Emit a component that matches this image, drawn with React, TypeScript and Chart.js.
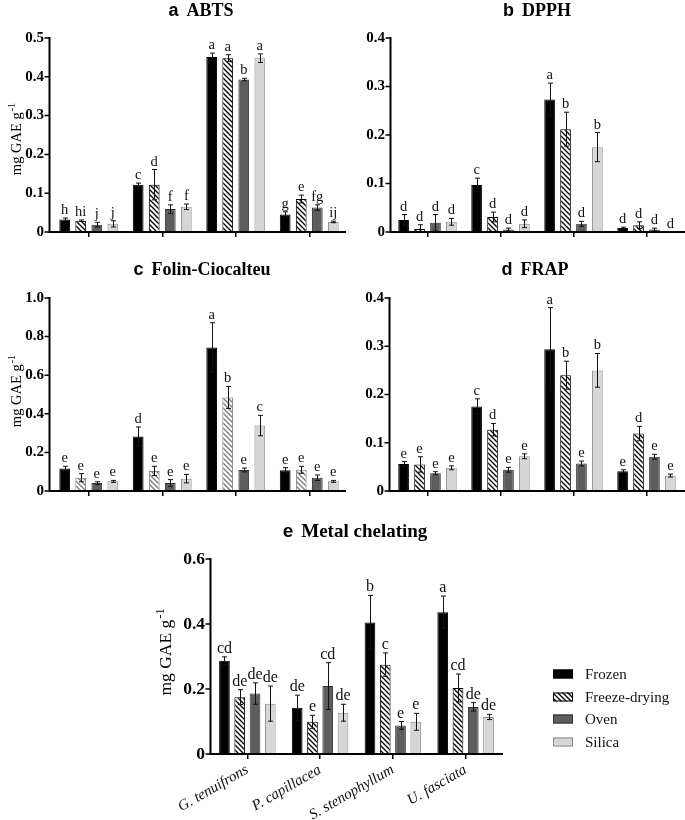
import React, { useEffect, useRef } from 'react';
import { Chart, registerables } from 'chart.js';

Chart.register(...registerables);

// ---------- data ----------
const species = ['G. tenuifrons', 'P. capillacea', 'S. stenophyllum', 'U. fasciata'];
const methods = ['Frozen', 'Freeze-drying', 'Oven', 'Silica'];

// rows: Frozen, Freeze-drying, Oven, Silica ; columns: species
const abtsMeans = [
  [0.032, 0.122, 0.451, 0.045],
  [0.029, 0.122, 0.448, 0.085],
  [0.019, 0.059, 0.393, 0.063],
  [0.021, 0.065, 0.448, 0.026],
];
const abtsErrors = [
  [0.004, 0.004, 0.010, 0.007],
  [0.002, 0.039, 0.009, 0.010],
  [0.006, 0.011, 0.003, 0.007],
  [0.008, 0.007, 0.011, 0.002],
];
const abtsLetters = [
  ['h', 'c', 'a', 'g'],
  ['hi', 'd', 'a', 'e'],
  ['j', 'f', 'b', 'fg'],
  ['j', 'f', 'a', 'ij'],
];

const dpphMeans = [
  [0.025, 0.097, 0.273, 0.008],
  [0.006, 0.031, 0.212, 0.014],
  [0.019, 0.005, 0.017, 0.005],
  [0.021, 0.017, 0.175, 0.001],
];
const dpphErrors = [
  [0.011, 0.014, 0.034, 0.002],
  [0.009, 0.010, 0.035, 0.007],
  [0.017, 0.003, 0.005, 0.003],
  [0.007, 0.008, 0.030, 0.0],
];
const dpphLetters = [
  ['d', 'c', 'a', 'd'],
  ['d', 'd', 'b', 'd'],
  ['d', 'd', 'd', 'd'],
  ['d', 'd', 'b', 'd'],
];

const folinMeans = [
  [0.116, 0.283, 0.743, 0.107],
  [0.069, 0.104, 0.485, 0.110],
  [0.041, 0.041, 0.109, 0.069],
  [0.050, 0.064, 0.339, 0.050],
];
const folinErrors = [
  [0.012, 0.049, 0.129, 0.014],
  [0.021, 0.024, 0.057, 0.018],
  [0.007, 0.018, 0.010, 0.014],
  [0.005, 0.022, 0.053, 0.005],
];
const folinLetters = [
  ['e', 'd', 'a', 'e'],
  ['e', 'e', 'b', 'e'],
  ['e', 'e', 'e', 'e'],
  ['e', 'e', 'c', 'e'],
];

const frapMeans = [
  [0.056, 0.175, 0.294, 0.041],
  [0.055, 0.127, 0.240, 0.119],
  [0.037, 0.044, 0.057, 0.071],
  [0.048, 0.072, 0.250, 0.032],
];
const frapErrors = [
  [0.005, 0.016, 0.086, 0.003],
  [0.016, 0.013, 0.029, 0.015],
  [0.003, 0.005, 0.005, 0.005],
  [0.004, 0.005, 0.035, 0.003],
];
const frapLetters = [
  ['e', 'c', 'a', 'e'],
  ['e', 'd', 'b', 'd'],
  ['e', 'e', 'e', 'e'],
  ['e', 'e', 'b', 'e'],
];

const metalMeans = [
  [0.287, 0.142, 0.405, 0.436],
  [0.175, 0.099, 0.275, 0.203],
  [0.186, 0.209, 0.088, 0.145],
  [0.155, 0.127, 0.099, 0.114],
];
const metalErrors = [
  [0.012, 0.039, 0.083, 0.050],
  [0.023, 0.020, 0.036, 0.043],
  [0.033, 0.072, 0.012, 0.013],
  [0.054, 0.026, 0.026, 0.008],
];
const metalLetters = [
  ['cd', 'de', 'b', 'a'],
  ['de', 'e', 'c', 'cd'],
  ['de', 'cd', 'e', 'de'],
  ['de', 'de', 'e', 'de'],
];

const yTitleMain = 'mg GAE g';
const yTitleSup = '-1';

// ---------- styles ----------
const SERIF = "'Liberation Serif', 'Times New Roman', serif";
const SANS = "'Liberation Sans', Arial, sans-serif";

function makeHatch(color: string) {
  const s = 5;
  const c = document.createElement('canvas');
  c.width = s;
  c.height = s;
  const g = c.getContext('2d')!;
  g.fillStyle = '#ffffff';
  g.fillRect(0, 0, s, s);
  g.strokeStyle = color;
  g.lineWidth = 1.3;
  g.beginPath();
  g.moveTo(-1, -1);
  g.lineTo(s + 1, s + 1);
  g.moveTo(-1, s - 1);
  g.lineTo(1, s + 1);
  g.moveTo(s - 1, -1);
  g.lineTo(s + 1, 1);
  g.stroke();
  return g.createPattern(c, 'repeat')!;
}

type PanelCfg = {
  letter: string;
  name: string;
  means: number[][];
  errs: number[][];
  letters: string[][];
  yMax: number;
  yStep: number;
  cl: number; ct: number; cw: number; ch: number;
  areaLeft: number; areaRight: number; areaTop: number; areaBottom: number;
  yAxisX: number; xEnd: number; labelRight: number;
  titleX: number; titleBase: number; titleSize: number;
  yTitle: null | { x: number; y: number; size: number };
  tickSize: number; letterSize: number;
  catPct: number; barPct: number;
  hatchColor: string;
  showX: boolean; legend: boolean;
};

const panels: PanelCfg[] = [
  {
    letter: 'a', name: 'ABTS', means: abtsMeans, errs: abtsErrors, letters: abtsLetters,
    yMax: 0.5, yStep: 0.1,
    cl: 0, ct: 0, cw: 347, ch: 250,
    areaLeft: 52, areaRight: 346, areaTop: 38, areaBottom: 232,
    yAxisX: 49.5, xEnd: 346, labelRight: 44,
    titleX: 201, titleBase: 16, titleSize: 18,
    yTitle: { x: 16, y: 139, size: 14.5 },
    tickSize: 15, letterSize: 14.5, catPct: 0.873, barPct: 0.67,
    hatchColor: '#000', showX: false, legend: false,
  },
  {
    letter: 'b', name: 'DPPH', means: dpphMeans, errs: dpphErrors, letters: dpphLetters,
    yMax: 0.4, yStep: 0.1,
    cl: 340, ct: 0, cw: 345, ch: 250,
    areaLeft: 391, areaRight: 683, areaTop: 38, areaBottom: 232,
    yAxisX: 390.5, xEnd: 685, labelRight: 385,
    titleX: 537, titleBase: 16, titleSize: 18,
    yTitle: null,
    tickSize: 15, letterSize: 14.5, catPct: 0.873, barPct: 0.67,
    hatchColor: '#000', showX: false, legend: false,
  },
  {
    letter: 'c', name: 'Folin-Ciocalteu', means: folinMeans, errs: folinErrors, letters: folinLetters,
    yMax: 1.0, yStep: 0.2,
    cl: 0, ct: 250, cw: 347, ch: 260,
    areaLeft: 52, areaRight: 346, areaTop: 298, areaBottom: 491,
    yAxisX: 49.5, xEnd: 346, labelRight: 44,
    titleX: 202, titleBase: 275, titleSize: 18,
    yTitle: { x: 16, y: 391, size: 14.5 },
    tickSize: 15, letterSize: 14.5, catPct: 0.873, barPct: 0.67,
    hatchColor: '#7a7a7a', showX: false, legend: false,
  },
  {
    letter: 'd', name: 'FRAP', means: frapMeans, errs: frapErrors, letters: frapLetters,
    yMax: 0.4, yStep: 0.1,
    cl: 340, ct: 250, cw: 345, ch: 260,
    areaLeft: 391, areaRight: 683, areaTop: 298, areaBottom: 491,
    yAxisX: 389.5, xEnd: 685, labelRight: 384,
    titleX: 535, titleBase: 275, titleSize: 18,
    yTitle: null,
    tickSize: 15, letterSize: 14.5, catPct: 0.873, barPct: 0.67,
    hatchColor: '#000', showX: false, legend: false,
  },
  {
    letter: 'e', name: 'Metal chelating', means: metalMeans, errs: metalErrors, letters: metalLetters,
    yMax: 0.6, yStep: 0.2,
    cl: 0, ct: 510, cw: 685, ch: 310,
    areaLeft: 211, areaRight: 502, areaTop: 559, areaBottom: 754,
    yAxisX: 210.5, xEnd: 503, labelRight: 205,
    titleX: 355, titleBase: 537, titleSize: 19,
    yTitle: { x: 165, y: 652, size: 17.5 },
    tickSize: 17.5, letterSize: 16, catPct: 0.84, barPct: 0.7,
    hatchColor: '#000', showX: true, legend: true,
  },
];

const legendYs = [674, 697, 719, 742];

function Panel({ cfg }: { cfg: PanelCfg }) {
  const ref = useRef<HTMLCanvasElement>(null);

  useEffect(() => {
    const canvas = ref.current!;
    const hatch = makeHatch(cfg.hatchColor);
    const fills: any[] = ['#000000', hatch, '#5d5d5d', '#d6d6d6'];
    const borders = ['#000000', cfg.hatchColor, '#303030', '#8c8c8c'];
    const ox = cfg.cl;
    const oy = cfg.ct;

    const deco = {
      id: 'deco',
      afterDatasetsDraw(chart: any) {
        const ctx: CanvasRenderingContext2D = chart.ctx;
        const { left, right, top, bottom } = chart.chartArea;
        const ys = chart.scales.y;
        ctx.save();

        // error bars + letters
        cfg.means.forEach((row, i) => {
          const meta = chart.getDatasetMeta(i);
          row.forEach((v, j) => {
            const el = meta.data[j];
            if (!el) return;
            const x = Math.round(el.x) + 0.5;
            const e = cfg.errs[i][j];
            const yt = ys.getPixelForValue(v + e);
            const yb = ys.getPixelForValue(Math.max(0, v - e));
            if (e > 0) {
              ctx.strokeStyle = '#111';
              ctx.lineWidth = 1;
              ctx.beginPath();
              ctx.moveTo(x, yt);
              ctx.lineTo(x, yb);
              ctx.moveTo(x - 2.5, yt);
              ctx.lineTo(x + 2.5, yt);
              ctx.moveTo(x - 2.5, yb);
              ctx.lineTo(x + 2.5, yb);
              ctx.stroke();
            }
            ctx.fillStyle = '#111';
            ctx.font = `${cfg.letterSize}px ${SERIF}`;
            ctx.textAlign = 'center';
            ctx.textBaseline = 'alphabetic';
            ctx.fillText(cfg.letters[i][j], el.x, yt - 4);
          });
        });

        // axes
        const yx = cfg.yAxisX - ox;
        ctx.strokeStyle = '#000';
        ctx.lineWidth = 2;
        ctx.beginPath();
        ctx.moveTo(yx, top - 1);
        ctx.lineTo(yx, bottom + 1);
        ctx.moveTo(yx - 1, bottom);
        ctx.lineTo(cfg.xEnd - ox, bottom);
        ctx.stroke();
        ctx.lineWidth = 1.5;
        ctx.beginPath();
        ys.ticks.forEach((t: any) => {
          const py = ys.getPixelForValue(t.value);
          ctx.moveTo(yx - 5, py);
          ctx.lineTo(yx, py);
        });
        ctx.stroke();

        // panel title
        const tf1 = `bold ${cfg.titleSize}px ${SANS}`;
        const tf2 = `bold ${cfg.titleSize}px ${SERIF}`;
        ctx.font = tf1;
        const w1 = ctx.measureText(cfg.letter).width;
        ctx.font = tf2;
        const w2 = ctx.measureText(cfg.name).width;
        const gap = 8;
        const sx = cfg.titleX - ox - (w1 + gap + w2) / 2;
        const by = cfg.titleBase - oy;
        ctx.fillStyle = '#000';
        ctx.textAlign = 'left';
        ctx.textBaseline = 'alphabetic';
        ctx.font = tf1;
        ctx.fillText(cfg.letter, sx, by);
        ctx.font = tf2;
        ctx.fillText(cfg.name, sx + w1 + gap, by);

        // y title
        if (cfg.yTitle) {
          const fs = cfg.yTitle.size;
          ctx.save();
          ctx.translate(cfg.yTitle.x - ox, cfg.yTitle.y - oy);
          ctx.rotate(-Math.PI / 2);
          ctx.font = `${fs}px ${SERIF}`;
          const m1 = ctx.measureText(yTitleMain).width;
          const sfont = `${fs * 0.7}px ${SERIF}`;
          ctx.font = sfont;
          const m2 = ctx.measureText(yTitleSup).width;
          const st = -(m1 + m2 + 1) / 2;
          ctx.fillStyle = '#000';
          ctx.textAlign = 'left';
          ctx.textBaseline = 'alphabetic';
          ctx.font = `${fs}px ${SERIF}`;
          ctx.fillText(yTitleMain, st, fs * 0.33);
          ctx.font = sfont;
          ctx.fillText(yTitleSup, st + m1 + 1, fs * 0.33 - fs * 0.4);
          ctx.restore();
        }

        // legend
        if (cfg.legend) {
          methods.forEach((m, i) => {
            const cy = legendYs[i] - oy;
            const bx = 553 - ox;
            ctx.fillStyle = fills[i];
            ctx.fillRect(bx, cy - 4.5, 20, 9);
            ctx.strokeStyle = borders[i];
            ctx.lineWidth = 1;
            ctx.strokeRect(bx + 0.5, cy - 4, 19, 8);
            ctx.fillStyle = '#111';
            ctx.font = `15px ${SERIF}`;
            ctx.textAlign = 'left';
            ctx.textBaseline = 'middle';
            ctx.fillText(m, 585 - ox, cy + 1);
          });
        }
        ctx.restore();
      },
    };

    const chart = new Chart(canvas, {
      type: 'bar',
      data: {
        labels: species,
        datasets: methods.map((m, i) => ({
          label: m,
          data: cfg.means[i],
          backgroundColor: fills[i],
          borderColor: borders[i],
          borderWidth: 1,
          borderSkipped: 'bottom',
          categoryPercentage: cfg.catPct,
          barPercentage: cfg.barPct,
        })),
      },
      options: {
        responsive: false,
        animation: false,
        devicePixelRatio: 1,
        layout: {
          padding: {
            left: 0,
            top: cfg.areaTop - oy,
            right: ox + cfg.cw - cfg.areaRight,
            bottom: 0,
          },
        },
        plugins: {
          legend: { display: false },
          tooltip: { enabled: false },
          title: { display: false },
        },
        scales: {
          x: {
            grid: {
              display: true,
              drawOnChartArea: false,
              drawTicks: true,
              tickLength: 5,
              color: '#000',
              lineWidth: 1.5,
              offset: false,
            },
            border: { display: false },
            ticks: cfg.showX
              ? {
                  color: '#111',
                  font: { family: SERIF, style: 'italic', size: 15 },
                  maxRotation: 30,
                  minRotation: 30,
                  padding: 2,
                  autoSkip: false,
                }
              : { display: false },
            afterFit: (s: any) => {
              s.height = oy + cfg.ch - cfg.areaBottom;
            },
          } as any,
          y: {
            min: 0,
            max: cfg.yMax,
            grid: { display: false, drawTicks: false },
            border: { display: false },
            ticks: {
              stepSize: cfg.yStep,
              color: '#000',
              padding: cfg.areaLeft - cfg.labelRight,
              font: { family: SERIF, weight: 'bold', size: cfg.tickSize },
              callback: (v: any) => (Number(v) === 0 ? '0' : Number(v).toFixed(1)),
            },
            afterFit: (s: any) => {
              s.width = cfg.areaLeft - ox;
            },
          } as any,
        },
      },
      plugins: [deco],
    });

    return () => chart.destroy();
  }, [cfg]);

  return (
    <canvas
      ref={ref}
      width={cfg.cw}
      height={cfg.ch}
      style={{ position: 'absolute', left: cfg.cl, top: cfg.ct, width: cfg.cw, height: cfg.ch }}
    />
  );
}

export default function App() {
  return (
    <div style={{ position: 'absolute', left: 0, top: 0, width: 685, height: 820, background: '#fff' }}>
      {panels.map((p) => (
        <Panel key={p.letter} cfg={p} />
      ))}
    </div>
  );
}
